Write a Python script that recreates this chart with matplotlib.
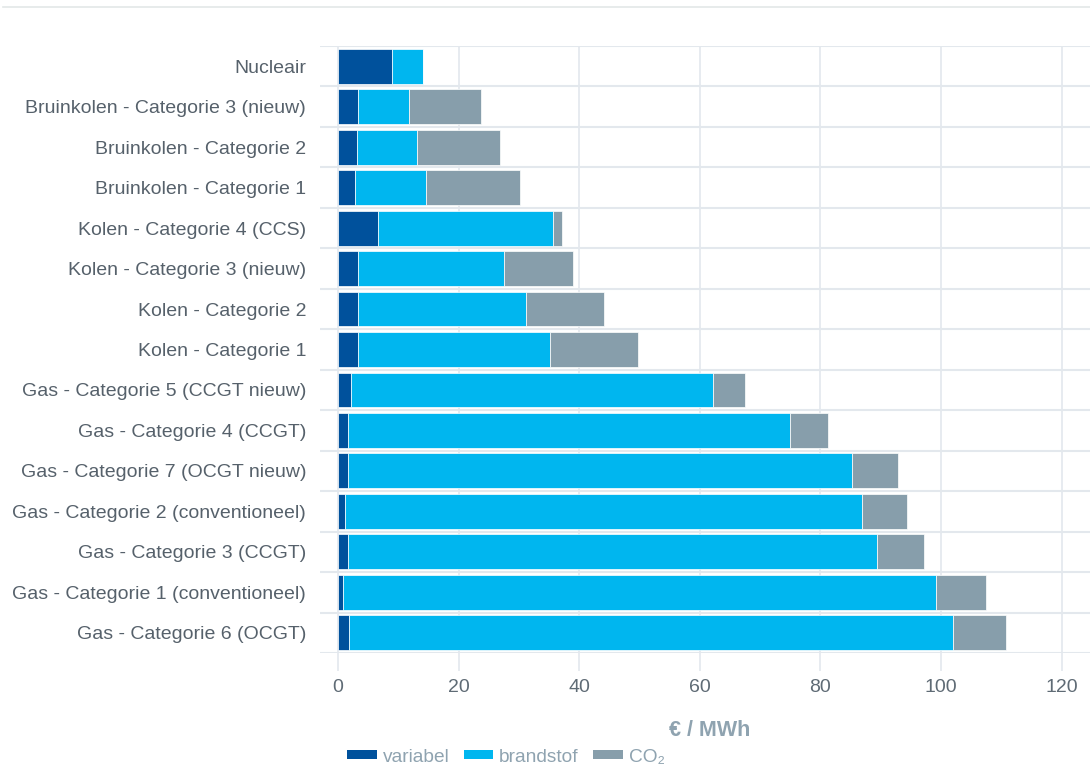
import matplotlib
matplotlib.use("Agg")
import matplotlib.pyplot as plt
from matplotlib.lines import Line2D
from matplotlib.patches import Patch
import numpy as np

plt.rcParams['font.family'] = ['Liberation Sans', 'DejaVu Sans']

categories = [
    "Nucleair",
    "Bruinkolen - Categorie 3 (nieuw)",
    "Bruinkolen - Categorie 2",
    "Bruinkolen - Categorie 1",
    "Kolen - Categorie 4 (CCS)",
    "Kolen - Categorie 3 (nieuw)",
    "Kolen - Categorie 2",
    "Kolen - Categorie 1",
    "Gas - Categorie 5 (CCGT nieuw)",
    "Gas - Categorie 4 (CCGT)",
    "Gas - Categorie 7 (OCGT nieuw)",
    "Gas - Categorie 2 (conventioneel)",
    "Gas - Categorie 3 (CCGT)",
    "Gas - Categorie 1 (conventioneel)",
    "Gas - Categorie 6 (OCGT)",
]
variabel = [9.0, 3.3, 3.15, 2.8, 6.6, 3.3, 3.3, 3.3, 2.15, 1.65, 1.65, 1.15, 1.65, 0.85, 1.85]
brandstof = [5.1, 8.5, 9.95, 11.8, 29.1, 24.2, 27.9, 31.9, 59.95, 73.25, 83.55, 85.75, 87.75, 98.25, 100.05]
co2 = [0.0, 11.9, 13.7, 15.5, 1.5, 11.5, 12.9, 14.6, 5.4, 6.4, 7.6, 7.5, 7.8, 8.3, 8.9]
series_names = ["variabel", "brandstof", "CO\u2082"]
xticks = [0, 20, 40, 60, 80, 100, 120]
x_title = "\u20ac / MWh"

colors = ["#00519c", "#00b6ef", "#879eab"]
grid_c = "#e3e8ed"

W, H = 1090, 772
fig = plt.figure(figsize=(W / 100, H / 100), dpi=100)
ax = fig.add_axes([320 / W, (H - 653) / H, 770 / W, (653 - 46) / H])

y = np.arange(len(categories))
left = np.zeros(len(categories))
for vals, c in zip([variabel, brandstof, co2], colors):
    v = np.array(vals)
    ax.barh(y, v, left=left, height=0.86, color=c, edgecolor="white",
            linewidth=0.5, zorder=3)
    left += v

ax.set_ylim(len(categories) - 0.5, -0.5)
ax.set_xlim(-2.99, 124.7)

ax.set_yticks(y)
ax.set_yticklabels(categories, fontsize=14, color="#56616b")
ax.tick_params(axis="y", length=0, pad=10)
ax.set_yticks(np.arange(-0.5, len(categories) + 0.5, 1), minor=True)
ax.tick_params(axis="y", which="minor", length=0)
ax.grid(True, axis="y", which="minor", color=grid_c, linewidth=1.5, zorder=0)

ax.set_xticks(xticks)
ax.set_xticklabels([str(t) for t in xticks], fontsize=14, color="#5f6b75")
ax.tick_params(axis="x", length=13, width=1.2, color=grid_c, direction="out", pad=6)
ax.grid(True, axis="x", which="major", color=grid_c, linewidth=1.2, zorder=0)

for s in ax.spines.values():
    s.set_visible(False)

fig.text(710 / W, 1 - 730 / H, x_title, ha="center", va="center",
         fontsize=15.5, fontweight="bold", color="#8fa3b0")

# top separator line
fig.add_artist(Line2D([3 / W, 1.0], [1 - 7 / H, 1 - 7 / H], color="#e3e8e8",
                      linewidth=1.2))

handles = [Patch(facecolor=c, edgecolor="none") for c in colors]
leg = fig.legend(handles, series_names, loc="center left",
                 bbox_to_anchor=(347 / W, 1 - 757 / H), ncol=3, frameon=False,
                 fontsize=13.8, handlelength=1.55, handleheight=0.4,
                 handletextpad=0.3, columnspacing=0.75, borderaxespad=0,
                 borderpad=0)
for t in leg.get_texts():
    t.set_color("#8fa3b0")

fig.savefig("out.png", dpi=100)
